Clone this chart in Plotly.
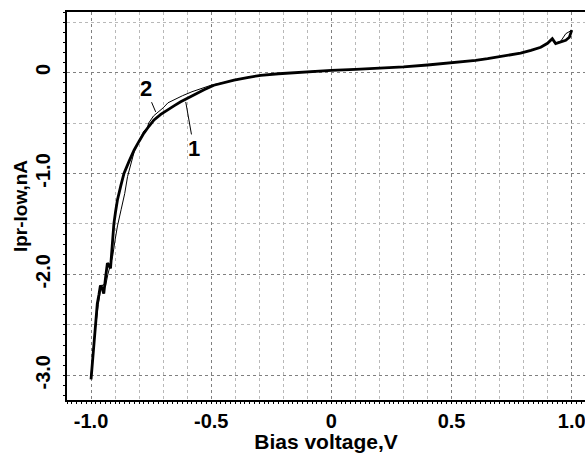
import plotly.graph_objects as go

# Curve 1 (thick)
x1 = [-1.0, -0.99, -0.98, -0.974, -0.967, -0.961, -0.954, -0.947, -0.94, -0.932,
      -0.925, -0.919, -0.912, -0.905, -0.898, -0.89, -0.876, -0.863, -0.842, -0.821,
      -0.80, -0.78, -0.76, -0.738, -0.71, -0.683, -0.655, -0.627, -0.60, -0.572,
      -0.53, -0.489, -0.45, -0.405, -0.35, -0.294, -0.22, -0.156, -0.08, 0.0,
      0.1, 0.2, 0.3, 0.4, 0.5, 0.55, 0.6, 0.65, 0.7, 0.75,
      0.787, 0.83, 0.871, 0.899, 0.919, 0.933, 0.954, 0.975, 0.99, 1.0]
y1 = [-3.04, -2.75, -2.47, -2.29, -2.2, -2.11, -2.14, -2.19, -2.04, -1.89,
      -1.91, -1.94, -1.72, -1.50, -1.38, -1.26, -1.12, -1.0, -0.88, -0.77,
      -0.68, -0.60, -0.535, -0.47, -0.415, -0.37, -0.33, -0.29, -0.255, -0.225,
      -0.17, -0.126, -0.10, -0.076, -0.05, -0.027, -0.012, 0.0, 0.012, 0.022,
      0.032, 0.043, 0.056, 0.075, 0.095, 0.105, 0.12, 0.137, 0.155, 0.175,
      0.193, 0.22, 0.25, 0.29, 0.336, 0.287, 0.30, 0.32, 0.35, 0.42]

# Curve 2 (thin)
x2 = [-1.0, -0.985, -0.97, -0.96, -0.95, -0.94, -0.93, -0.92, -0.91, -0.90,
      -0.89, -0.875, -0.86, -0.848, -0.835, -0.82, -0.80, -0.78, -0.766, -0.76,
      -0.74, -0.72, -0.70, -0.68, -0.655, -0.62, -0.58, -0.544, -0.50, -0.45,
      -0.405, -0.35, -0.294, -0.22, -0.156, -0.08, 0.0, 0.1, 0.2, 0.3,
      0.4, 0.5, 0.55, 0.6, 0.65, 0.7, 0.75, 0.787, 0.83, 0.871,
      0.899, 0.915, 0.93, 0.954, 0.975, 1.0]
y2 = [-3.0, -2.6, -2.3, -2.15, -2.1, -2.12, -2.0, -1.92, -1.82, -1.66,
      -1.52, -1.36, -1.2, -1.03, -0.9, -0.78, -0.68, -0.58, -0.55, -0.50,
      -0.43, -0.39, -0.35, -0.30, -0.27, -0.23, -0.19, -0.16, -0.125, -0.10,
      -0.076, -0.05, -0.027, -0.012, 0.0, 0.012, 0.022, 0.032, 0.043, 0.056,
      0.075, 0.095, 0.105, 0.12, 0.137, 0.155, 0.175, 0.193, 0.22, 0.25,
      0.29, 0.33, 0.29, 0.31, 0.385, 0.42]

x_tickvals = [-1.0, -0.5, 0, 0.5, 1.0]
x_ticktext = ["-1.0", "-0.5", "0", "0.5", "1.0"]
y_tickvals = [0, -1.0, -2.0, -3.0]
y_ticktext = ["0", "-1.0", "-2.0", "-3.0"]

FONT = "Liberation Sans, Arial, sans-serif"

fig = go.Figure()
fig.add_trace(go.Scatter(x=x2, y=y2, mode="lines", line=dict(color="black", width=1),
                         showlegend=False, hoverinfo="skip"))
fig.add_trace(go.Scatter(x=x1, y=y1, mode="lines", line=dict(color="black", width=2.8),
                         showlegend=False, hoverinfo="skip"))
# invisible trace on overlay axes (fine tick marks)
fig.add_trace(go.Scatter(x=[x1[0]], y=[y1[0]], xaxis="x2", yaxis="y2", mode="lines",
                         opacity=0, showlegend=False, hoverinfo="skip"))

xr = [-1.1, 1.055]
yr = [-3.245, 0.6]

fig.update_layout(
    width=585, height=453,
    margin=dict(l=67, r=0, t=12, b=53),
    paper_bgcolor="white", plot_bgcolor="white",
    font=dict(family=FONT, color="black"),
    xaxis=dict(
        range=xr, tickvals=x_tickvals, ticktext=x_ticktext, automargin=False,
        tickfont=dict(size=20, weight="bold"), ticks="", ticklabelstandoff=2,
        ticklabeloverflow="allow",
        showgrid=True, gridcolor="#808080", griddash="dot", gridwidth=1,
        minor=dict(dtick=0.1, tick0=0, showgrid=True, gridcolor="#b8b8b8",
                   griddash="dot", gridwidth=1, ticks=""),
        showline=True, linecolor="black", linewidth=1.5, mirror=True,
        zeroline=False,
        title=dict(text="Bias voltage,V", font=dict(size=21, weight="bold"), standoff=6),
    ),
    yaxis=dict(
        range=yr, tickvals=y_tickvals, ticktext=y_ticktext, tickangle=-90, automargin=False,
        tickfont=dict(size=20, weight="bold"), ticks="", ticklabelstandoff=7,
        ticklabeloverflow="allow",
        showgrid=True, gridcolor="#808080", griddash="dot", gridwidth=1,
        minor=dict(dtick=0.5, tick0=0, showgrid=True, gridcolor="#b8b8b8",
                   griddash="dot", gridwidth=1, ticks=""),
        showline=True, linecolor="black", linewidth=1.5, mirror=False,
        zeroline=False,
        title=dict(text="Ipr-low,nA", font=dict(size=19, weight="bold"), standoff=0),
    ),
    xaxis2=dict(
        range=xr, overlaying="x", anchor="y2", side="bottom", automargin=False,
        tick0=0, dtick=0.02, ticks="outside", ticklen=3, tickwidth=1, tickcolor="black",
        showticklabels=False, showgrid=False, zeroline=False, showline=False,
    ),
    yaxis2=dict(
        range=yr, overlaying="y", anchor="x2", side="left", automargin=False,
        tick0=0, dtick=0.1, ticks="outside", ticklen=3, tickwidth=1, tickcolor="black",
        showticklabels=False, showgrid=False, zeroline=False, showline=False,
    ),
)

fig.add_annotation(x=-0.731, y=-0.39, ax=-0.773, ay=-0.155, axref="x", ayref="y",
                   text="2", showarrow=True, arrowhead=0, arrowwidth=1, arrowcolor="black",
                   standoff=0, font=dict(size=22, weight="bold", family=FONT))
fig.add_annotation(x=-0.606, y=-0.291, ax=-0.572, ay=-0.752, axref="x", ayref="y",
                   text="1", showarrow=True, arrowhead=0, arrowwidth=1, arrowcolor="black",
                   standoff=0, font=dict(size=22, weight="bold", family=FONT))

fig.write_html("out.html", config={"displayModeBar": False},
               post_script="document.body.style.margin='0';")
